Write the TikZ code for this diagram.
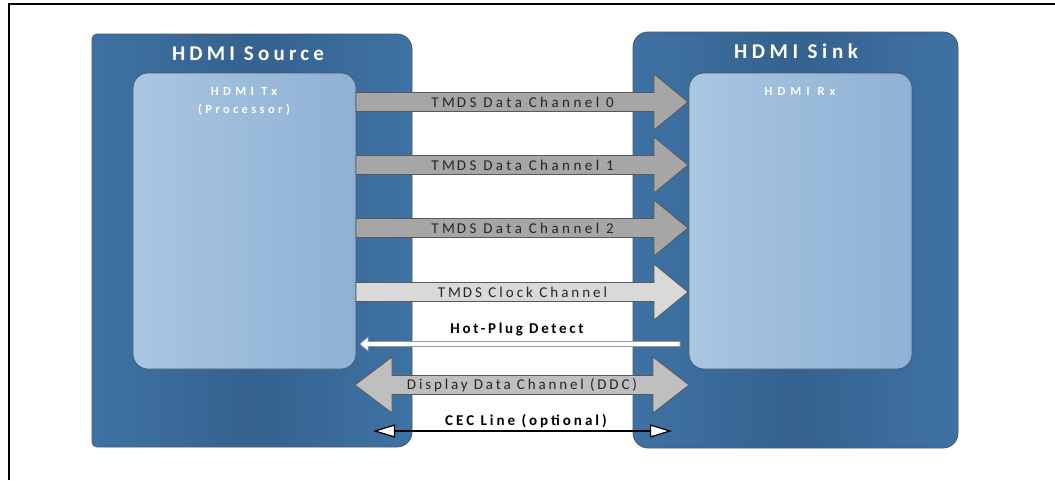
\documentclass[tikz,border=0pt]{standalone}
\usepackage{fontspec}
\setmainfont{Carlito}
\newfontfamily\lblfont{Carlito}
\usetikzlibrary{arrows.meta,calc}
\definecolor{outerL}{HTML}{3E72A4}
\definecolor{outerM}{HTML}{35628F}
\definecolor{innerL}{HTML}{A9C6E1}
\definecolor{innerR}{HTML}{8FB1D5}
\definecolor{edge}{HTML}{4A5866}
\definecolor{datafill}{HTML}{A6A6A6}
\definecolor{clkfill}{HTML}{D9D9D9}
\definecolor{ddcfill}{HTML}{BFBFBF}
\definecolor{arrowedge}{HTML}{595959}
\definecolor{txtgray}{HTML}{262626}
\tikzset{
  outerbox/.style={draw=edge, line width=0.8pt, left color=outerL, right color=outerL, middle color=outerM},
  innerbox/.style={draw=edge, line width=0.8pt, rounded corners=15pt, left color=innerL, right color=innerR, inner sep=0pt, outer sep=0pt},
  blockarrow/.style={draw=arrowedge, line width=0.8pt},
  chlabel/.style={font=\lblfont\fontsize{15}{17}\selectfont\addfontfeature{LetterSpace=#1}, text=txtgray, inner sep=0pt},
  boldlabel/.style={font=\lblfont\bfseries\fontsize{15}{17}\selectfont\addfontfeature{LetterSpace=#1}, text=black, inner sep=0pt},
  titlelabel/.style={font=\lblfont\bfseries\fontsize{21}{23}\selectfont\addfontfeature{LetterSpace=#1}, text=white, inner sep=0pt},
  boxlabel/.style={font=\lblfont\bfseries\fontsize{12.5}{19}\selectfont\addfontfeature{LetterSpace=#1}, text=white!97!innerL, inner sep=0pt, align=center},
  ceclink/.style={line width=1.2pt, {Triangle[open, fill=white, length=22pt, width=13pt]}-{Triangle[open, fill=white, length=22pt, width=13pt]}},
}
\newcommand\rightblock[5]{% name, y, fill, spacing, label
  \draw[blockarrow, fill=#3]
    ($(tx.east|-0,#2)+(0,-9.5)$) -- ($(rx.west|-0,#2)+(-35,-9.5)$) -- ++(0,-18.5)
    -- ($(rx.west|-0,#2)+(-1,0)$) -- ($(rx.west|-0,#2)+(-35,28)$) -- ++(0,-18.5)
    -- ($(tx.east|-0,#2)+(0,9.5)$) -- cycle;
  \node[chlabel=#4] (#1) at ($(tx.east|-0,#2)!0.5!(rx.west|-0,#2)$) {#5};}
\begin{document}
\begin{tikzpicture}[x=1pt,y=-1pt]
\useasboundingbox (0,0) rectangle (1055,480);
% frame
\draw[line width=2pt] (9,480) -- (9,4) -- (1055,4);
% source outer box
\path[outerbox] (92,40) [rounded corners=5pt] -- (92,34) [rounded corners=15pt] -- (412,34) -- (412,447) [rounded corners=5pt] -- (92,447) [sharp corners] -- cycle;
\node[inner sep=0pt, minimum width=320pt, minimum height=413pt] (src) at (252,240.5) {};
% sink outer box
\node[outerbox, rounded corners=15pt, inner sep=0pt, minimum width=325pt, minimum height=416pt] (snk) at (795.5,240) {};
% inner boxes
\node[innerbox, minimum width=223pt, minimum height=296pt] (tx) at (244.5,221) {};
\node[innerbox, minimum width=223pt, minimum height=296pt] (rx) at (800.5,221) {};
% titles
\node[titlelabel=20] (srct) at (248,54) {HDMI Source};
\node[titlelabel=22] (snkt) at (796,51) {HDMI Sink};
\node[boxlabel=35] (txt) at (244,91) {HDMI Tx};
\node[boxlabel=27] (txp) at (244,110) {(Processor)};
\node[boxlabel=40] (rxt) at (800,91) {HDMI Rx};
% TMDS channels
\rightblock{ch0}{102}{datafill}{23}{TM\kern2pt DS Data Channel 0}
\rightblock{ch1}{165}{datafill}{23}{TM\kern2pt DS Data Channel 1}
\rightblock{ch2}{228}{datafill}{23}{TM\kern2pt DS Data Channel 2}
\rightblock{clk}{292}{clkfill}{20}{TM\kern2pt DS Clock Channel}
% Hot plug detect
\draw[draw=gray!80, fill=white, line width=0.6pt]
  ($(rx.west|-0,344)+(-9,-2.5)$) -- ($(tx.east|-0,344)+(12,-2.5)$) -- ++(0,-4.5)
  -- ($(tx.east|-0,344)+(4,0)$) -- ($(tx.east|-0,344)+(12,7)$) -- ++(0,-4.5)
  -- ($(rx.west|-0,344)+(-9,2.5)$) -- cycle;
\node[boldlabel=18] (hpd) at (517,330) {Hot-Plug Detect};
% DDC
\draw[blockarrow, fill=ddcfill]
  ($(tx.east|-0,385)+(-1,0)$) -- ($(tx.east|-0,385)+(36,-28)$) -- ++(0,18.5)
  -- ($(rx.west|-0,385)+(-36,-9.5)$) -- ++(0,-18.5) -- (rx.west|-0,385)
  -- ($(rx.west|-0,385)+(-36,28)$) -- ++(0,-18.5)
  -- ($(tx.east|-0,385)+(36,9.5)$) -- ++(0,18.5) -- cycle;
\node[chlabel=19] (ddc) at (522,385) {Display Data Channel (DDC)};
% CEC
\coordinate (cecl) at ($(tx.east|-0,431)+(17,0)$);
\coordinate (cecr) at ($(rx.west|-0,431)+(-17,0)$);
\draw[ceclink] (cecl) -- (cecr);
\node[boldlabel=20] (cec) at (526,421) {CEC Line (optional)};
\end{tikzpicture}
\end{document}
